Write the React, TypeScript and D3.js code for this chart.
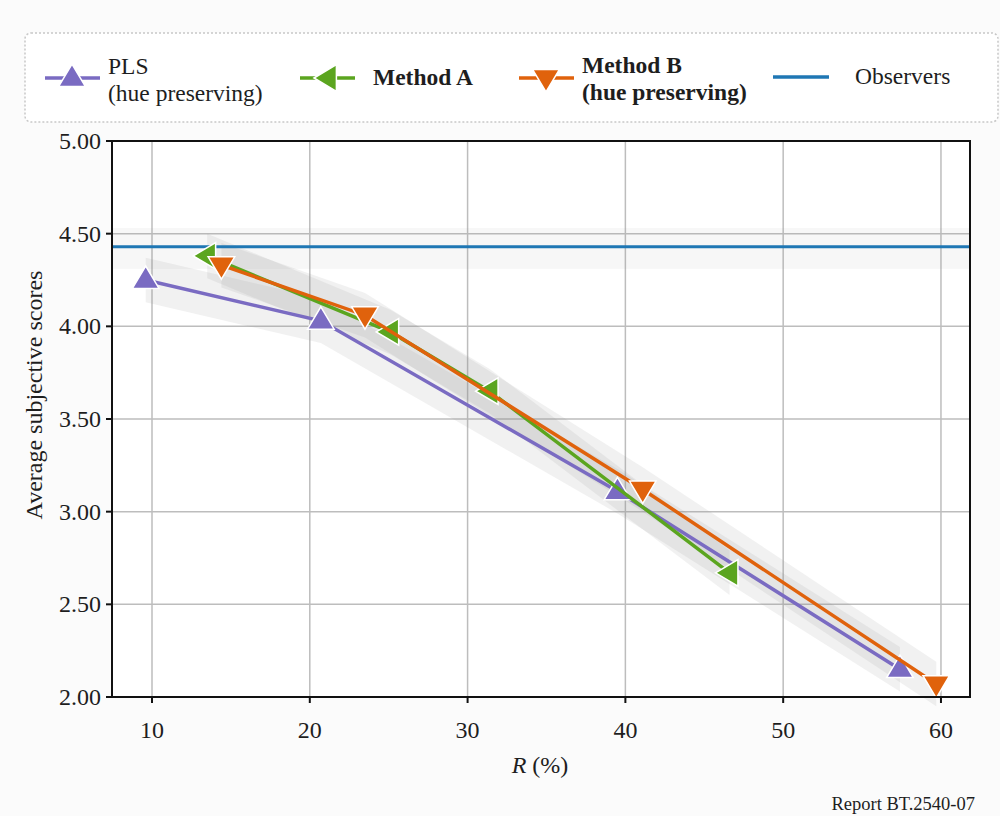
import React from "react";
import * as d3 from "d3";

// Compression ratio R (%) vs. average subjective score
const plsR = [9.6, 20.7, 39.5, 57.4];
const plsScore = [4.25, 4.03, 3.11, 2.15];
const methodAR = [13.5, 25.1, 31.4, 46.6];
const methodAScore = [4.38, 3.97, 3.65, 2.67];
const methodBR = [14.4, 23.5, 41.1, 59.7];
const methodBScore = [4.33, 4.06, 3.12, 2.07];
const observersScore = 4.43;
const bandHalf = 0.12;

const xTicks = [10, 20, 30, 40, 50, 60];
const yTicks = [2.0, 2.5, 3.0, 3.5, 4.0, 4.5, 5.0];

const W = 1000;
const H = 816;
const left = 112;
const right = 970;
const top = 141;
const bottom = 697;

const x = d3.scaleLinear().domain([7.465, 61.84]).range([left, right]);
const y = d3.scaleLinear().domain([2, 5]).range([bottom, top]);

type Pt = { r: number; s: number };
const zip = (rs: number[], ss: number[]): Pt[] => rs.map((r, i) => ({ r, s: ss[i] }));

const series = [
  { key: "pls", pts: zip(plsR, plsScore), color: "#7a6bc2", marker: "up" },
  { key: "a", pts: zip(methodAR, methodAScore), color: "#5ba51f", marker: "left" },
  { key: "b", pts: zip(methodBR, methodBScore), color: "#e0620c", marker: "down" },
];

const line = d3
  .line<Pt>()
  .x((d) => x(d.r))
  .y((d) => y(d.s));
const band = d3
  .area<Pt>()
  .x((d) => x(d.r))
  .y0((d) => y(d.s - bandHalf))
  .y1((d) => y(d.s + bandHalf));

function tri(kind: string, cx: number, cy: number, a: number) {
  const h = a * 0.95;
  if (kind === "up") return `M${cx},${cy - a} L${cx + h},${cy + a * 0.6} L${cx - h},${cy + a * 0.6} Z`;
  if (kind === "down") return `M${cx},${cy + a} L${cx + h},${cy - a * 0.6} L${cx - h},${cy - a * 0.6} Z`;
  return `M${cx - a},${cy} L${cx + a * 0.6},${cy - h} L${cx + a * 0.6},${cy + h} Z`;
}

const serif = "'Liberation Serif', 'Times New Roman', serif";
const ink = "#1e1e1e";

export default function App() {
  return (
    <svg
      width={W}
      height={H}
      style={{ position: "absolute", left: 0, top: 0, background: "#fbfbfb" }}
      fontFamily={serif}
    >
      <rect x={0} y={0} width={W} height={H} fill="#fbfbfb" />
      {/* legend */}
      <rect x={25} y={33} width={973} height={89} rx={6} fill="#ffffff" stroke="#c8c8c8" strokeWidth={1.5} strokeDasharray="2,2" />
      <g>
        <line x1={45} x2={100} y1={78} y2={78} stroke="#7a6bc2" strokeWidth={3.5} />
        <path d={tri("up", 72, 78, 14)} fill="#7a6bc2" stroke="#fff" strokeWidth={1.5} />
        <text x={108} y={74} fontSize={23.5} fill={ink}>PLS</text>
        <text x={108} y={101} fontSize={23.5} fill={ink}>(hue preserving)</text>

        <line x1={300} x2={355} y1={78} y2={78} stroke="#5ba51f" strokeWidth={3.5} />
        <path d={tri("left", 328, 78, 14)} fill="#5ba51f" stroke="#fff" strokeWidth={1.5} />
        <text x={373} y={85} fontSize={23.5} fontWeight="bold" fill={ink}>Method A</text>

        <line x1={519} x2={574} y1={78} y2={78} stroke="#e0620c" strokeWidth={3.5} />
        <path d={tri("down", 546, 78, 14)} fill="#e0620c" stroke="#fff" strokeWidth={1.5} />
        <text x={582} y={73} fontSize={23.5} fontWeight="bold" fill={ink}>Method B</text>
        <text x={582} y={100} fontSize={23.5} fontWeight="bold" fill={ink}>(hue preserving)</text>

        <line x1={773} x2={829} y1={77} y2={77} stroke="#1f77b4" strokeWidth={3.5} />
        <text x={855} y={84} fontSize={23.5} fill={ink}>Observers</text>
      </g>

      {/* plot area */}
      <rect x={left} y={top} width={right - left} height={bottom - top} fill="#ffffff" />
      {/* grid */}
      {xTicks.map((t) => (
        <line key={"gx" + t} x1={x(t)} x2={x(t)} y1={top} y2={bottom} stroke="#bdbdbd" strokeWidth={1.5} />
      ))}
      {yTicks.map((t) => (
        <line key={"gy" + t} x1={left} x2={right} y1={y(t)} y2={y(t)} stroke="#bdbdbd" strokeWidth={1.5} />
      ))}

      {/* confidence bands */}
      <rect
        x={left}
        y={y(observersScore + 0.1)}
        width={right - left}
        height={y(observersScore - 0.12) - y(observersScore + 0.1)}
        fill="#8c8c8c"
        opacity={0.07}
      />
      {series.map((s) => (
        <path key={"band" + s.key} d={band(s.pts) ?? ""} fill="#8c8c8c" opacity={0.12} />
      ))}

      {/* observers reference */}
      <line x1={left} x2={right} y1={y(observersScore)} y2={y(observersScore)} stroke="#1f77b4" strokeWidth={3} />

      {/* lines and markers */}
      {series.map((s) => (
        <g key={"s" + s.key}>
          <path d={line(s.pts) ?? ""} fill="none" stroke={s.color} strokeWidth={3.5} />
          {s.pts.map((p, i) => (
            <path
              key={i}
              d={tri(s.marker, x(p.r), y(p.s), 14)}
              fill={s.color}
              stroke="#fff"
              strokeWidth={1.5}
            />
          ))}
        </g>
      ))}

      {/* frame */}
      <rect x={left} y={top} width={right - left} height={bottom - top} fill="none" stroke="#111" strokeWidth={2} />

      {/* axes */}
      {xTicks.map((t) => (
        <g key={"xt" + t}>
          <line x1={x(t)} x2={x(t)} y1={bottom} y2={bottom + 6} stroke="#111" strokeWidth={2} />
          <text x={x(t)} y={738} fontSize={24} textAnchor="middle" fill={ink}>
            {t}
          </text>
        </g>
      ))}
      {yTicks.map((t) => (
        <g key={"yt" + t}>
          <line x1={left - 6} x2={left} y1={y(t)} y2={y(t)} stroke="#111" strokeWidth={2} />
          <text x={101} y={y(t) + 8} fontSize={24} textAnchor="end" fill={ink}>
            {t.toFixed(2)}
          </text>
        </g>
      ))}
      <text x={540} y={773} fontSize={24} textAnchor="middle" fill={ink}>
        <tspan fontStyle="italic">R</tspan> (%)
      </text>
      <text
        transform={`translate(42, 395) rotate(-90)`}
        fontSize={24}
        textAnchor="middle"
        fill={ink}
      >
        Average subjective scores
      </text>
      <text x={975} y={810} fontSize={18.5} textAnchor="end" fill={ink}>
        Report BT.2540-07
      </text>
    </svg>
  );
}
